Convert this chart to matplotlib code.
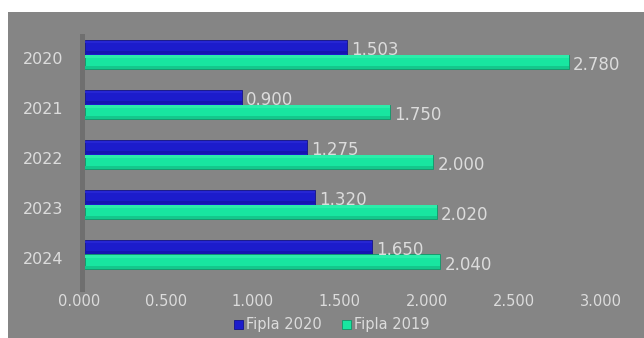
import matplotlib
matplotlib.use("Agg")
import matplotlib.pyplot as plt
import matplotlib.transforms as mtransforms
from matplotlib.patches import Rectangle
import numpy as np

years = ["2020", "2021", "2022", "2023", "2024"]
fipla_2020 = [1.503, 0.900, 1.275, 1.320, 1.650]
fipla_2019 = [2.780, 1.750, 2.000, 2.020, 2.040]
xticks = [0.0, 0.5, 1.0, 1.5, 2.0, 2.5, 3.0]

BG = "#858585"
TXT = "#dcdcdc"
BLUE = "#1c1ccc"
GREEN = "#18e6a0"

W, H = 644, 338
fig = plt.figure(figsize=(W / 100, H / 100), dpi=100, facecolor="white")
fig.patches.append(Rectangle((8 / W, 0), 1 - 8 / W, 1 - 12 / H, transform=fig.transFigure,
                             facecolor=BG, edgecolor="none", zorder=-2))
# faint 3D "wall" on the left
fig.patches.append(Rectangle((80 / W, 1 - 292 / H), 5 / W, 258 / H, transform=fig.transFigure,
                             facecolor="#5a5a5a", edgecolor="none", alpha=0.5, zorder=-1))

ax = fig.add_axes([85.5 / W, 1 - 279.5 / H, 521.5 / W, 250 / H])
ax.set_zorder(1)
ax.set_facecolor("none")
for s in ax.spines.values():
    s.set_visible(False)

y = np.arange(len(years))
h = 0.29
b1 = ax.barh(y - h / 2, fipla_2020, height=h, color=BLUE, edgecolor="#12128a", linewidth=0.6,
             label="Fipla 2020", zorder=3)
b2 = ax.barh(y + h / 2, fipla_2019, height=h, color=GREEN, edgecolor="#109468", linewidth=0.6,
             label="Fipla 2019", zorder=3)
# tube shading: slightly lighter top edge, darker bottom edge
for off, vals, top, bot in [(-h / 2, fipla_2020, "#2626d4", "#1616b0"),
                            (h / 2, fipla_2019, "#2cecaa", "#14c88c")]:
    ax.barh(y + off - h * 0.36, vals, height=h * 0.2, color=top, linewidth=0, zorder=4)
    ax.barh(y + off + h * 0.38, vals, height=h * 0.18, color=bot, linewidth=0, zorder=4)

for yy, v in zip(y - h / 2, fipla_2020):
    ax.annotate(f"{v:.3f}", (v, yy), xytext=(3, -2), textcoords="offset points",
                ha="left", va="center", color=TXT, fontsize=12, zorder=5)
for yy, v in zip(y + h / 2, fipla_2019):
    ax.annotate(f"{v:.3f}", (v, yy), xytext=(3, -2), textcoords="offset points",
                ha="left", va="center", color=TXT, fontsize=12, zorder=5)

ax.set_xlim(0, 3)
ax.set_ylim(len(years) - 0.5, -0.5)
ax.set_yticks(y)
ax.set_yticklabels(years, fontsize=11.5)
ax.set_xticks(xticks)
ax.set_xticklabels([f"{t:.3f}" for t in xticks], fontsize=10.5)
ax.tick_params(length=0, colors=TXT)
ax.tick_params(axis="y", pad=16)
ax.tick_params(axis="x", pad=10.5)
for lab in ax.get_xticklabels():
    lab.set_transform(lab.get_transform() + mtransforms.ScaledTranslation(-6.5 / 100, 0, fig.dpi_scale_trans))
for lab in ax.get_yticklabels():
    lab.set_transform(lab.get_transform() + mtransforms.ScaledTranslation(0, -4 / 100, fig.dpi_scale_trans))

leg = fig.legend(handles=[b1, b2], loc="center", bbox_to_anchor=(332 / W, 1 - 325 / H), ncol=2,
                 frameon=False, fontsize=10.5, handlelength=0.6, handleheight=0.6,
                 handletextpad=0.2, columnspacing=1.4, borderaxespad=0)
for t in leg.get_texts():
    t.set_color(TXT)

fig.savefig("out.png", dpi=100, facecolor="white")
